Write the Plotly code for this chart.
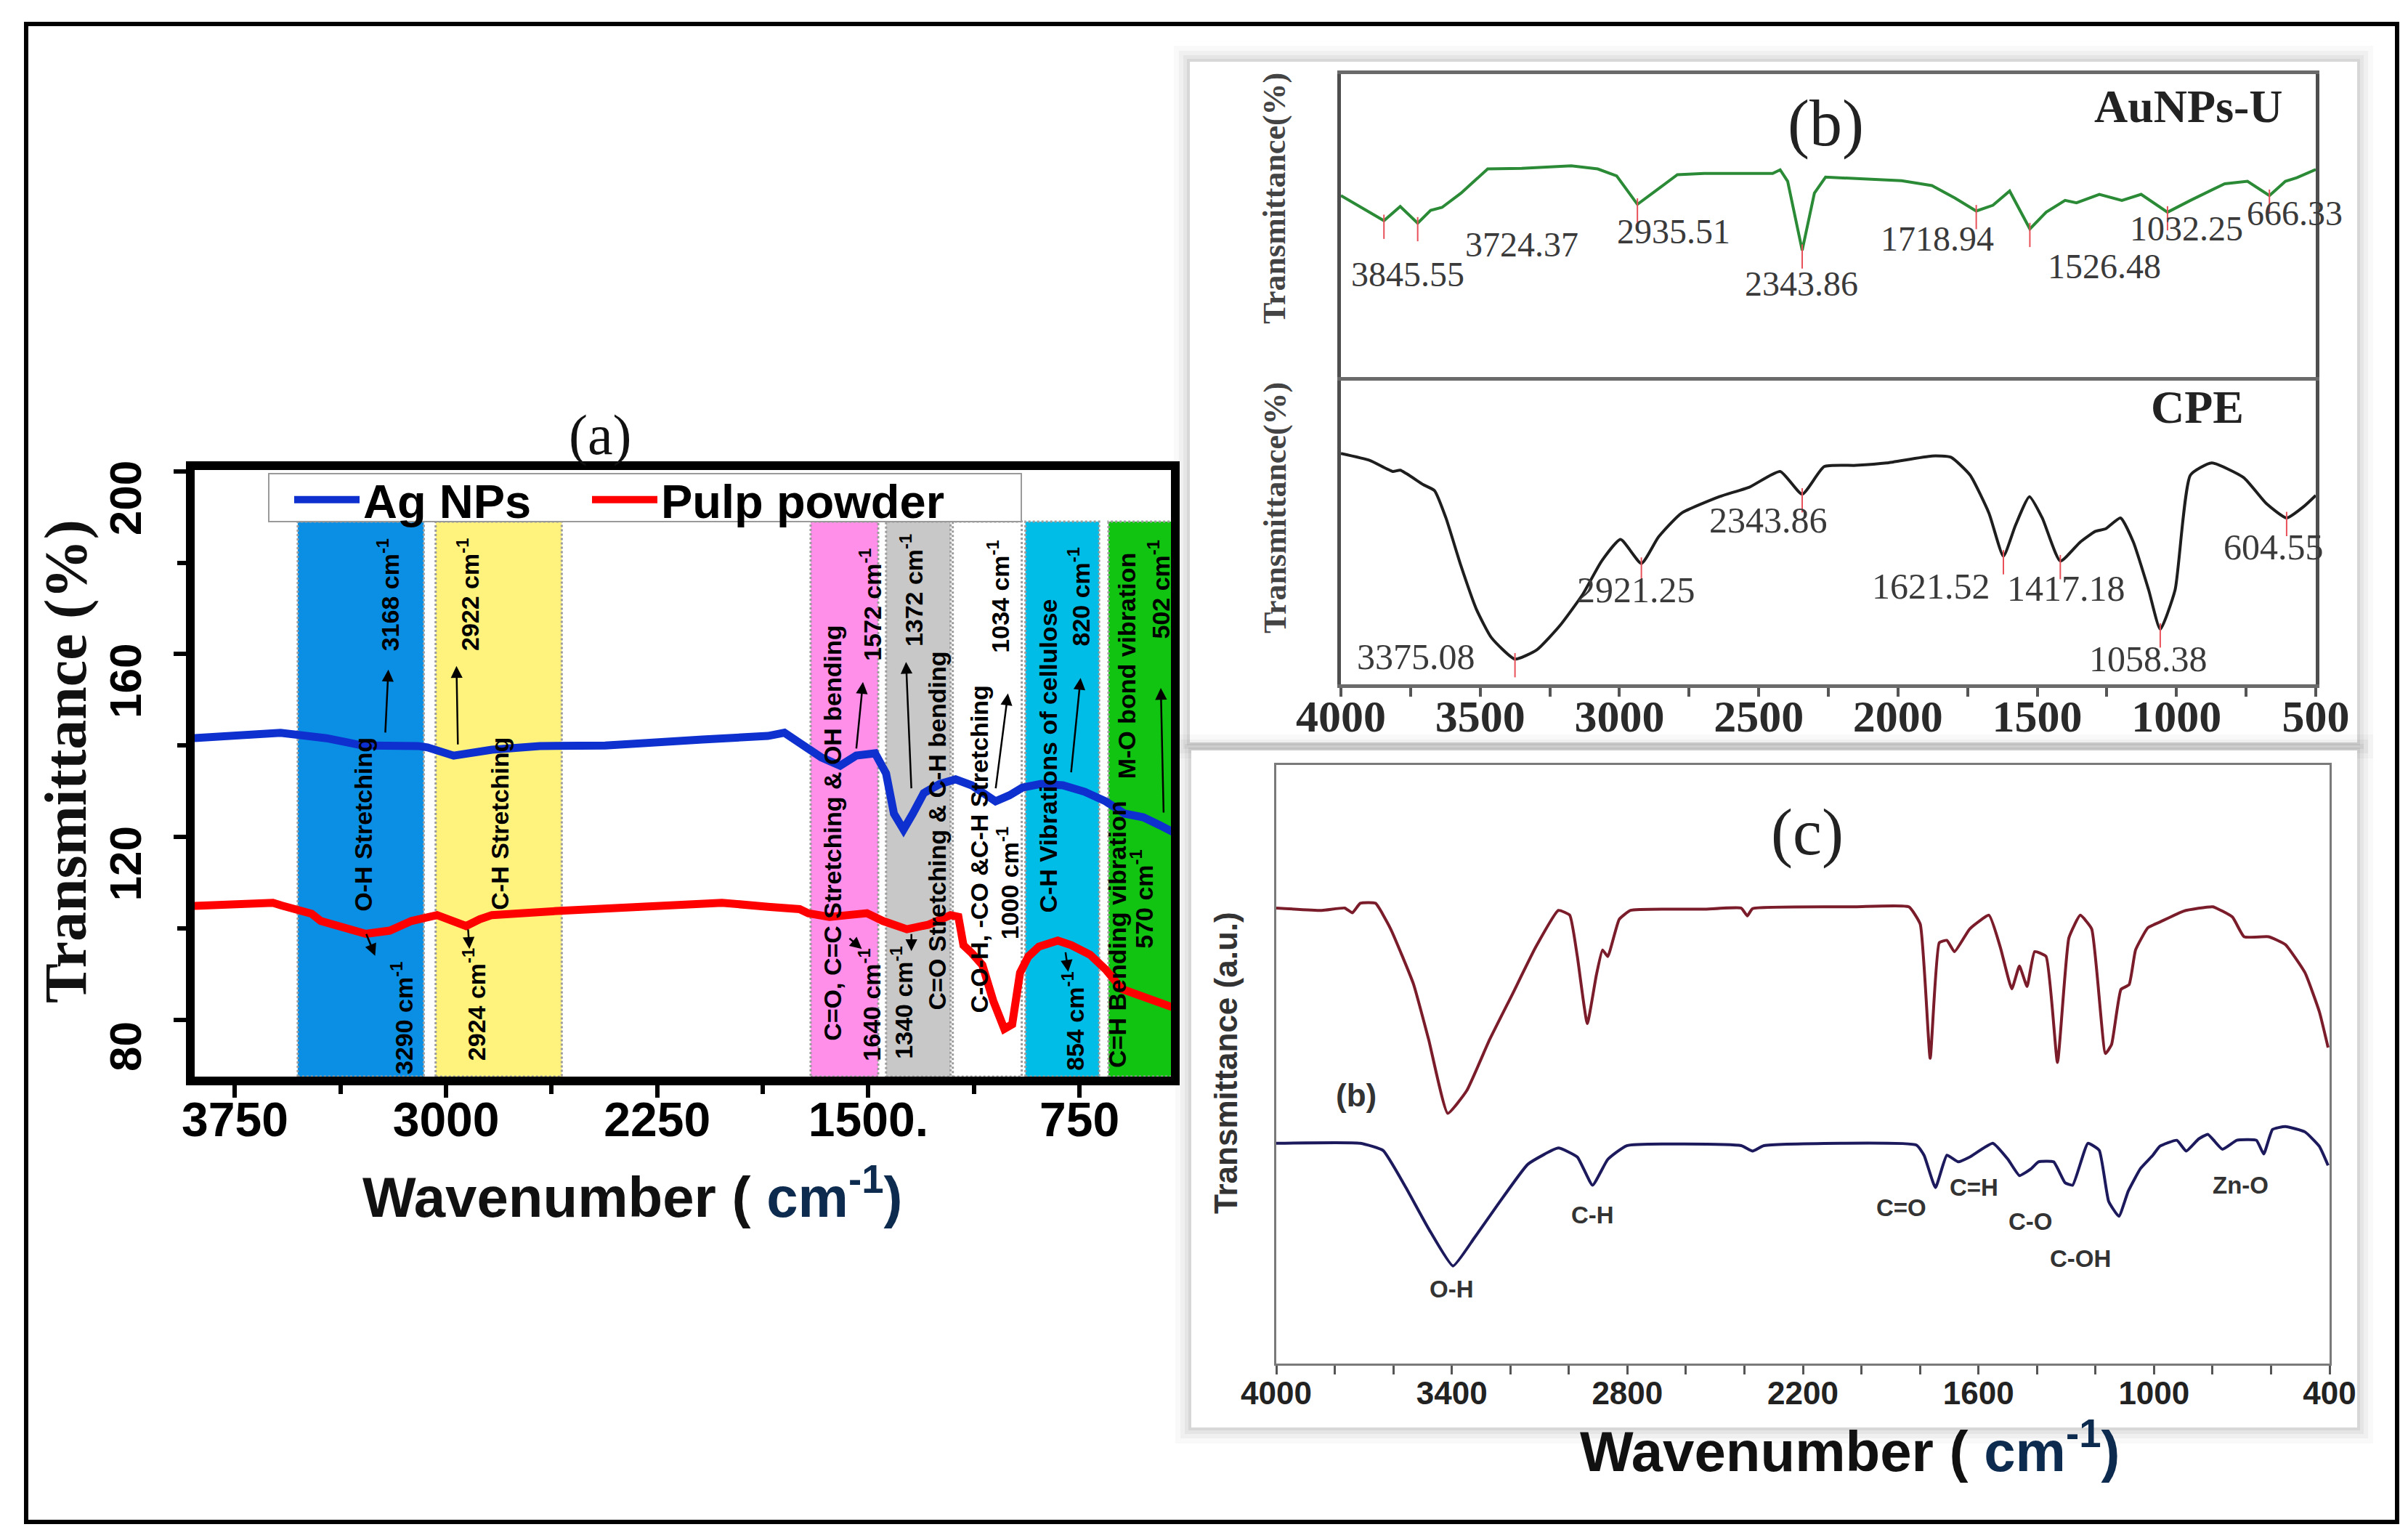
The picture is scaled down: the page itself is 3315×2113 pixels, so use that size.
import plotly.graph_objects as go

W, H = 3315, 2113
def PX(x): return x / W
def PY(y): return 1 - y / H

# ---------------- Panel (a) data ----------------
ag_wn = [3899, 3750, 3588, 3425, 3295, 3100, 3066, 2973, 2837, 2667, 2435, 2090, 1857, 1798, 1780,
         1723, 1667, 1600, 1543, 1476, 1437, 1409, 1375, 1342, 1303, 1246, 1190, 1133, 1084, 1048,
         999, 953, 886, 809, 732, 657, 590, 523, 466, 409]
ag_t = [141.6, 142.3, 142.8, 141.6, 140.0, 139.9, 139.6, 137.8, 139.1, 139.9, 140.0, 141.3, 142.1, 142.8, 142.1,
        140.0, 137.4, 135.6, 137.8, 138.3, 133.9, 125.1, 121.6, 125.1, 129.6, 131.6, 132.6, 131.3, 129.1, 127.8,
        129.1, 130.8, 131.6, 131.3, 129.9, 127.8, 125.1, 124.3, 122.6, 120.8]

pulp_wn = [3899, 3750, 3615, 3584, 3478, 3445, 3370, 3285, 3200, 3123, 3032, 2990, 2929, 2880, 2837,
           2607, 2319, 2020, 1857, 1744, 1713, 1638, 1571, 1505, 1448, 1363, 1286, 1208, 1180, 1162,
           1133, 1095, 1056, 1017, 989, 961, 932, 894, 827, 779, 712, 657, 599, 523, 466, 409]
pulp_t = [104.9, 105.3, 105.6, 105.0, 103.2, 101.6, 100.3, 98.8, 99.5, 101.6, 102.9, 102.0, 100.5, 102.0, 102.9,
          103.8, 104.6, 105.6, 104.7, 104.2, 103.3, 102.5, 102.9, 103.3, 101.6, 99.8, 100.8, 102.9, 102.5, 96.3,
          94.6, 92.0, 84.1, 78.0, 79.0, 90.3, 93.8, 96.0, 97.3, 96.3, 94.2, 91.0, 86.7, 85.0, 83.8, 82.5]

band_lo = [3079, 2589, 1465, 1208, 955, 680, 417]
band_hi = [3527, 3037, 1705, 1437, 1200, 942, 647]
band_fill = ['#0b8fe4', '#fff37e', '#ff8fe9', '#c8c8c8', 'rgba(255,255,255,0)', '#00bde7', '#12c412']
band_top = 189

a_xtick_vals = [3750, 3000, 2250, 1500, 750]
a_xtick_text = ['3750', '3000', '2250', '1500.', '750']
a_xminor = [3375, 2625, 1875, 1125]
a_ytick_vals = [80, 120, 160, 200]
a_yminor = [100, 140, 180]

# ---------------- Panel (b) data ----------------
au_wn = [4000, 3845.55, 3787, 3724.37, 3678, 3637, 3569, 3473, 3351, 3173, 3078, 3010, 2935.51, 2860, 2792,
         2696, 2450, 2423, 2396, 2343.86, 2300, 2260, 2150, 1987, 1878, 1796, 1718.94, 1659, 1599, 1526.48,
         1468, 1400, 1359, 1277, 1196, 1127, 1032.25, 950, 827, 745, 666.33, 609, 568, 500]
au_t = [57.9, 49.6, 54.3, 48.8, 53.0, 54.0, 58.7, 66.7, 66.9, 67.7, 66.7, 64.4, 55.0, 60.2, 64.8,
        65.2, 65.2, 66.4, 62.6, 39.8, 58.7, 64.0, 63.6, 62.8, 61.2, 57.1, 52.8, 54.7, 59.4, 46.9,
        52.4, 56.3, 55.5, 58.3, 56.3, 58.3, 52.4, 56.3, 61.8, 62.6, 57.9, 62.6, 63.8, 66.5]
au_peaks = ['3845.55', '3724.37', '2935.51', '2343.86', '1718.94', '1526.48', '1032.25', '666.33']

cpe_wn = [4000, 3896, 3814, 3787, 3705, 3664, 3623, 3569, 3514, 3460, 3375.08, 3296, 3214, 3132, 3064,
          2996, 2921.25, 2860, 2778, 2641, 2532, 2423, 2343.86, 2265, 2150, 2041, 1878, 1810, 1741, 1673,
          1621.52, 1578, 1528, 1482, 1417.18, 1345, 1291, 1255, 1201, 1155, 1100, 1058.38, 1005, 950, 874,
          759, 677, 604.55, 541, 500]
cpe_t = [74.0, 71.7, 68.1, 68.5, 63.8, 61.8, 52.8, 37.0, 22.8, 13.4, 6.3, 9.4, 17.3, 27.6, 38.6,
         45.7, 37.8, 46.5, 54.3, 59.8, 63.0, 68.1, 60.6, 69.7, 70.1, 70.9, 73.2, 72.8, 66.9, 54.3,
         40.2, 50.4, 59.8, 52.8, 38.6, 44.9, 48.4, 49.2, 52.8, 44.9, 29.1, 16.1, 29.1, 66.9, 70.9,
         66.1, 57.5, 52.8, 56.7, 60.2]
cpe_peaks = ['3375.08', '2921.25', '2343.86', '1621.52', '1417.18', '1058.38', '604.55']

b_tick_vals = list(range(4000, 499, -250))
b_tick_text = [str(v) if v % 500 == 0 else '' for v in b_tick_vals]

# ---------------- Panel (c) data ----------------
c_red_wn = [4000, 3844, 3766, 3740, 3713, 3661, 3609, 3531, 3479, 3414, 3349, 3271, 3192, 3114, 3036,
            2997, 2971, 2937, 2906, 2885, 2867, 2828, 2789, 2541, 2411, 2390, 2372, 2020, 1838, 1799,
            1765, 1734, 1708, 1682, 1630, 1564, 1525, 1486, 1460, 1434, 1408, 1369, 1330, 1291, 1252,
            1213, 1166, 1145, 1113, 1085, 1063, 1021, 978, 898, 799, 732, 692, 608, 551, 484, 435, 405]
c_red_t = [74.8, 74.4, 74.8, 74.0, 75.6, 75.6, 71.3, 62.1, 52.8, 40.5, 44.3, 52.8, 60.5, 68.2, 74.4,
           73.6, 66.7, 55.5, 63.6, 67.8, 66.7, 72.9, 74.4, 74.6, 74.8, 73.5, 74.7, 75.0, 75.0, 72.1,
           49.7, 69.0, 69.4, 67.5, 71.3, 73.6, 68.2, 61.3, 65.1, 61.7, 67.5, 66.7, 49.0, 69.8, 73.6,
           71.3, 50.5, 52.0, 61.2, 62.0, 67.8, 71.5, 72.5, 74.3, 75.0, 73.3, 70.0, 70.0, 68.7, 64.0, 57.5, 51.5]
c_navy_wn = [4000, 3713, 3635, 3557, 3479, 3396, 3323, 3245, 3140, 3036, 2971, 2919, 2867, 2802, 2411,
             2372, 2333, 1812, 1786, 1747, 1708, 1669, 1630, 1551, 1499, 1460, 1421, 1395, 1343, 1304,
             1278, 1226, 1187, 1155, 1120, 1088, 1046, 1004, 980, 922, 890, 848, 816, 766, 717,
             650, 625, 595, 551, 484, 435, 405]
c_navy_t = [35.5, 35.5, 34.3, 28.1, 21.2, 15.0, 19.7, 25.1, 32.0, 34.7, 33.2, 28.5, 32.8, 35.1, 35.1,
            34.2, 35.1, 35.2, 33.5, 28.1, 33.5, 32.4, 33.2, 35.5, 32.8, 30.1, 31.2, 32.4, 32.4, 28.9,
            28.5, 35.5, 34.3, 25.8, 23.3, 27.5, 31.3, 33.5, 35.0, 36.0, 34.2, 36.2, 37.0, 34.5, 36.0,
            36.0, 33.7, 37.8, 38.3, 37.4, 35.0, 31.8]
c_labels = ['(b)', 'O-H', 'C-H', 'C=O', 'C=H', 'C-O', 'C-OH', 'Zn-O']
c_tick_vals = list(range(4000, 399, -200))
c_tick_text = [str(v) if (4000 - v) % 600 == 0 else '' for v in c_tick_vals]

# ---------------- layout positions (pixels of the page) ----------------
A_BOX = (260, 639, 1604, 1474)
B_TOP = (1838, 94, 3180, 511)
B_BOT = (1838, 516, 3180, 934)
C_BOX = (1749, 1045, 3199, 1869)
A_YR = [67.55, 200.3]
A_XR = [3893, 425]
B_YR = [-2, 98]
C_YR = [-1.3, 98.7]

fig = go.Figure()

fig.add_trace(go.Scatter(x=ag_wn, y=ag_t, name='Ag NPs', mode='lines', legend='legend',
                         line=dict(color='#0e30cf', width=11), xaxis='x', yaxis='y'))
fig.add_trace(go.Scatter(x=pulp_wn, y=pulp_t, name='Pulp powder', mode='lines', legend='legend2',
                         line=dict(color='#ff0000', width=11), xaxis='x', yaxis='y'))

fig.add_trace(go.Scatter(x=au_wn, y=au_t, mode='lines', showlegend=False,
                         line=dict(color='#2a8a36', width=4), xaxis='x2', yaxis='y2'))
fig.add_trace(go.Scatter(x=cpe_wn, y=cpe_t, mode='lines', showlegend=False,
                         line=dict(color='#1e1e1e', width=4, shape='spline', smoothing=0.5),
                         xaxis='x3', yaxis='y3'))

def peak_marks(wn, t, labels):
    xs, ys = [], []
    for lab in labels:
        v = float(lab)
        i = min(range(len(wn)), key=lambda k: abs(wn[k] - v))
        xs += [wn[i], wn[i], None]
        ys += [t[i] + 2, t[i] - 6, None]
    return xs, ys

mx, my = peak_marks(au_wn, au_t, au_peaks)
fig.add_trace(go.Scatter(x=mx, y=my, mode='lines', showlegend=False,
                         line=dict(color='#e8505a', width=2), xaxis='x2', yaxis='y2'))
mx, my = peak_marks(cpe_wn, cpe_t, cpe_peaks)
fig.add_trace(go.Scatter(x=mx, y=my, mode='lines', showlegend=False,
                         line=dict(color='#e8505a', width=2), xaxis='x3', yaxis='y3'))

fig.add_trace(go.Scatter(x=c_red_wn, y=c_red_t, mode='lines', showlegend=False,
                         line=dict(color='#7a1c2a', width=4, shape='spline', smoothing=0.4),
                         xaxis='x4', yaxis='y4'))
fig.add_trace(go.Scatter(x=c_navy_wn, y=c_navy_t, mode='lines', showlegend=False,
                         line=dict(color='#1c1a5c', width=4, shape='spline', smoothing=0.4),
                         xaxis='x4', yaxis='y4'))

def dom_x(box): return [PX(box[0]), PX(box[2])]
def dom_y(box): return [PY(box[3]), PY(box[1])]

serif = 'Liberation Serif'
common = dict(showgrid=False, zeroline=False, automargin=False)
leg_font = dict(family='Liberation Sans', size=65, color='black', weight='bold')

layout = dict(
    template='none',
    width=W, height=H, autosize=False,
    margin=dict(l=0, r=0, t=0, b=0, pad=0),
    paper_bgcolor='white', plot_bgcolor='rgba(0,0,0,0)',
    legend=dict(x=PX(392), y=PY(680), xanchor='left', yanchor='middle', orientation='h',
                bgcolor='rgba(0,0,0,0)', borderwidth=0, font=leg_font, itemwidth=90),
    legend2=dict(x=PX(802), y=PY(680), xanchor='left', yanchor='middle', orientation='h',
                 bgcolor='rgba(0,0,0,0)', borderwidth=0, font=leg_font, itemwidth=90),
    xaxis=dict(domain=dom_x(A_BOX), range=A_XR, anchor='y', **common,
               showline=True, mirror=True, linecolor='black', linewidth=12,
               ticks='outside', ticklen=17, tickwidth=6, tickcolor='black',
               tickmode='array', tickvals=a_xtick_vals, ticktext=a_xtick_text,
               ticklabelstandoff=-26,
               minor=dict(tickmode='array', tickvals=a_xminor, ticks='outside', ticklen=12,
                          tickwidth=6, tickcolor='black'),
               tickfont=dict(family='Liberation Sans', size=66, color='black', weight='bold')),
    yaxis=dict(domain=dom_y(A_BOX), range=A_YR, anchor='x', **common,
               showline=True, mirror=True, linecolor='black', linewidth=12,
               ticks='outside', ticklen=17, tickwidth=6, tickcolor='black',
               tickmode='array', tickvals=a_ytick_vals, tickangle=-90,
               ticklabelshift=46, ticklabelstandoff=20,
               minor=dict(tickmode='array', tickvals=a_yminor, ticks='outside', ticklen=12,
                          tickwidth=6, tickcolor='black'),
               tickfont=dict(family='Liberation Sans', size=62, color='black', weight='bold')),
    xaxis2=dict(domain=dom_x(B_TOP), range=[4000, 500], anchor='y2', **common, showline=True, mirror=True,
                linecolor='#6a6a6a', linewidth=5, showticklabels=False, ticks=''),
    yaxis2=dict(domain=dom_y(B_TOP), range=B_YR, anchor='x2', **common, showline=True, mirror=True,
                linecolor='#4e4e4e', linewidth=5, showticklabels=False, ticks=''),
    xaxis3=dict(domain=dom_x(B_BOT), range=[4000, 500], anchor='y3', **common, showline=True, mirror=True,
                linecolor='#6a6a6a', linewidth=5,
                ticks='outside', ticklen=12, tickwidth=4, tickcolor='#555',
                tickmode='array', tickvals=b_tick_vals, ticktext=b_tick_text,
                ticklabelstandoff=-26,
                tickfont=dict(family=serif, size=62, color='#2a2a2a', weight='bold')),
    yaxis3=dict(domain=dom_y(B_BOT), range=B_YR, anchor='x3', **common, showline=True, mirror=True,
                linecolor='#4e4e4e', linewidth=5, showticklabels=False, ticks=''),
    xaxis4=dict(domain=dom_x(C_BOX), range=[4000, 400], anchor='y4', **common, showline=True, mirror=True,
                linecolor='#7a7a7a', linewidth=3,
                ticks='outside', ticklen=12, tickwidth=3, tickcolor='#555',
                tickmode='array', tickvals=c_tick_vals, ticktext=c_tick_text,
                ticklabelstandoff=-12,
                tickfont=dict(family='Liberation Sans', size=44, color='#222', weight='bold')),
    yaxis4=dict(domain=dom_y(C_BOX), range=C_YR, anchor='x4', **common, showline=True, mirror=True,
                linecolor='#7a7a7a', linewidth=3, showticklabels=False, ticks=''),
)
fig.update_layout(**layout)

shapes = []
def card(x0, y0, x1, y1):
    out = []
    for pad, a in [(22, 0.025), (15, 0.035), (9, 0.045), (4, 0.06)]:
        out.append(dict(type='rect', xref='paper', yref='paper', layer='below',
                        x0=PX(x0 - pad), x1=PX(x1 + pad), y0=PY(y1 + pad), y1=PY(y0 - pad),
                        fillcolor=f'rgba(0,0,0,{a})', line=dict(width=0)))
    out.append(dict(type='rect', xref='paper', yref='paper', layer='below',
                    x0=PX(x0), x1=PX(x1), y0=PY(y1), y1=PY(y0),
                    fillcolor='white', line=dict(width=0)))
    return out

shapes += card(1630, 77, 3237, 1014)
shapes += card(1632, 1025, 3237, 1957)
shapes.append(dict(type='rect', xref='paper', yref='paper', layer='below',
                   x0=PX(A_BOX[0]), x1=PX(A_BOX[2]), y0=PY(A_BOX[3]), y1=PY(A_BOX[1]),
                   fillcolor='white', line=dict(width=0)))
for lo, hi, col in zip(band_lo, band_hi, band_fill):
    shapes.append(dict(type='rect', xref='x', yref='y', layer='below',
                       x0=hi, x1=lo, y0=A_YR[0], y1=band_top, fillcolor=col,
                       line=dict(color='#9c9c9c', width=3, dash='dot')))
shapes.append(dict(type='rect', xref='paper', yref='paper', layer='above',
                   x0=PX(362), x1=PX(1398), y0=PY(710), y1=PY(644),
                   fillcolor='white', line=dict(color='#9a9a9a', width=2)))
shapes.append(dict(type='rect', xref='paper', yref='paper', layer='above',
                   x0=PX(28), x1=PX(3292), y0=PY(2087), y1=PY(25),
                   fillcolor='rgba(0,0,0,0)', line=dict(color='black', width=6)))
fig.update_layout(shapes=shapes)

ann = []
def pann(text, x, y, size, family, color='#111', angle=0):
    return dict(text=text, x=PX(x), y=PY(y), xref='paper', yref='paper', showarrow=False,
                xanchor='center', yanchor='middle', textangle=angle,
                font=dict(family=family, size=size, color=color))

a_labels = [
    ("O-H Stretching", 3295, 122.7), ("3168 cm<sup>-1</sup>", 3205, 173.0),
    ("2922 cm<sup>-1</sup>", 2922, 173.0), ("C-H Stretching", 2808, 123.0),
    ("3290 cm<sup>-1</sup>", 3158, 80.4), ("2924 cm<sup>-1</sup>", 2899, 83.3),
    ("C=O, C=C Stretching & OH bending", 1628, 120.8), ("1572 cm<sup>-1</sup>", 1491, 170.9),
    ("1640 cm<sup>-1</sup>", 1494, 83.3), ("1372 cm<sup>-1</sup>", 1347, 174.0),
    ("C=O Stretching & C-H bending", 1257, 121.3), ("1340 cm<sup>-1</sup>", 1380, 83.8),
    ("1034 cm<sup>-1</sup>", 1038, 172.6), ("C-O-H, -CO &C-H Stretching", 1105, 117.3),
    ("1000 cm<sup>-1</sup>", 1004, 109.9), ("C-H Vibrations of cellulose", 860, 137.8),
    ("820 cm<sup>-1</sup>", 752, 172.6), ("854 cm<sup>-1</sup>", 771, 79.8),
    ("M-O bond vibration", 582, 157.5), ("502 cm<sup>-1</sup>", 468, 174.2),
    ("C=H Bending vibration", 618, 98.6), ("570 cm<sup>-1</sup>", 528, 106.4),
]
for txt, xv, yv in a_labels:
    ann.append(dict(text=txt, x=xv, y=yv, xref='x', yref='y', showarrow=False, textangle=-90,
                    xanchor='center', yanchor='middle',
                    font=dict(family='Liberation Sans', size=34, color='black', weight='bold')))
a_arrows = [
    (3216, 142.6, 3205, 156.6), (2958, 140.0, 2963, 157.4), (3285, 99.0, 3252, 94.0),
    (2922, 100.0, 2917, 95.5), (1543, 139.1, 1519, 153.9), (1347, 130.4, 1366, 158.3),
    (1048, 130.4, 1004, 151.4), (780, 133.9, 746, 154.8), (451, 125.1, 461, 152.6),
    (1571, 98.0, 1523, 95.5), (1347, 99.0, 1347, 95.0), (800, 95.0, 790, 90.5),
]
for ax_, ay_, hx, hy in a_arrows:
    ann.append(dict(text='', x=hx, y=hy, ax=ax_, ay=ay_, xref='x', yref='y', axref='x', ayref='y',
                    showarrow=True, arrowhead=2, arrowsize=1.3, arrowwidth=2.5, arrowcolor='black'))

wave_txt = "<b>Wavenumber ( <span style='color:#0d2b4e'>cm<sup>-1</sup>)</span></b>"
ann.append(pann('(a)', 818, 590, 78, serif))
ann.append(pann('<b>Transmittance (%)</b>', 82, 1040, 82, serif, angle=-90))
ann.append(pann(wave_txt, 862, 1634, 78, 'Liberation Sans'))

ann.append(pann('(b)', 2505, 162, 90, serif, '#222'))
ann.append(pann('<b>AuNPs-U</b>', 3005, 138, 64, serif, '#222'))
ann.append(pann('<b>CPE</b>', 3017, 552, 64, serif, '#222'))
for yy in (265, 691):
    ann.append(pann('<b>Transmittance(%)</b>', 1747, yy, 44, serif, '#444', angle=-90))
au_lab_pos = [(3760, 31.9), (3351, 41.7), (2805, 46.0), (2347, 28.7), (1860, 43.7), (1260, 34.5),
              (965, 47.0), (575, 52.0)]
for txt, (xv, yv) in zip(au_peaks, au_lab_pos):
    ann.append(dict(text=txt, x=xv, y=yv, xref='x2', yref='y2', showarrow=False,
                    xanchor='center', yanchor='middle',
                    font=dict(family=serif, size=48, color='#3a3a3a')))
cpe_lab_pos = [(3730, 7.1), (2940, 29.1), (2464, 52.0), (1880, 30.3), (1395, 29.5), (1100, 6.3),
               (650, 43.3)]
for txt, (xv, yv) in zip(cpe_peaks, cpe_lab_pos):
    ann.append(dict(text=txt, x=xv, y=yv, xref='x3', yref='y3', showarrow=False,
                    xanchor='center', yanchor='middle',
                    font=dict(family=serif, size=50, color='#3a3a3a')))

ann.append(pann('(c)', 2480, 1138, 90, serif, '#222'))
ann.append(pann('<b>Transmittance (a.u.)</b>', 1679, 1455, 44, 'Liberation Sans', '#333', angle=-90))
c_lab_pos = [(3726, 43.6), (3401, 11.2), (2919, 23.5), (1864, 24.7), (1616, 28.1), (1421, 22.4),
             (1252, 16.2), (705, 28.5)]
for txt, (xv, yv) in zip(c_labels, c_lab_pos):
    ann.append(dict(text='<b>' + txt + '</b>', x=xv, y=yv, xref='x4', yref='y4', showarrow=False,
                    xanchor='center', yanchor='middle',
                    font=dict(family='Liberation Sans', size=44 if txt == '(b)' else 33, color='#333')))
ann.append(pann(wave_txt, 2538, 1984, 78, 'Liberation Sans'))

fig.update_layout(annotations=ann)
fig.write_html("out.html")
